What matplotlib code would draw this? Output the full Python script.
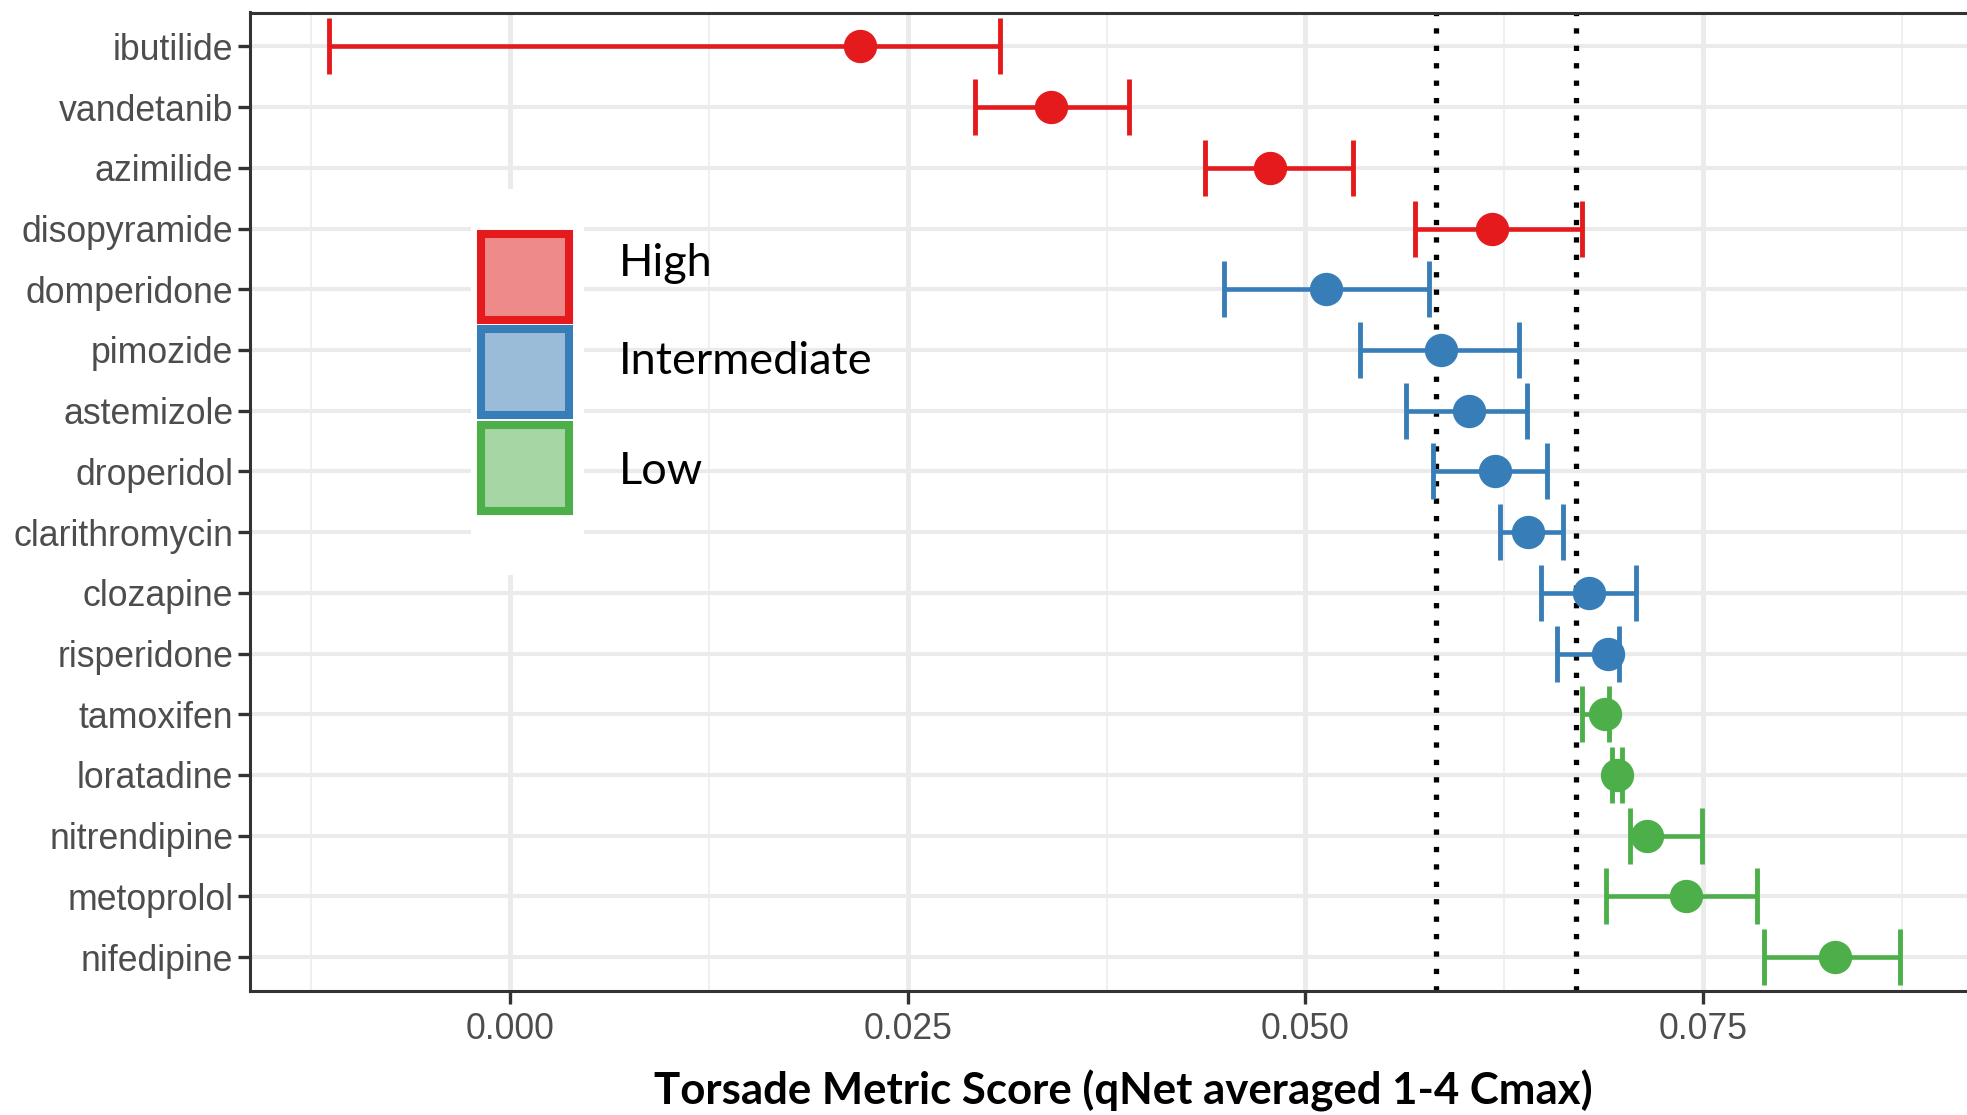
import numpy as np
import matplotlib
matplotlib.use('Agg')
import matplotlib.pyplot as plt
from matplotlib.patches import Rectangle

drugs = ['ibutilide', 'vandetanib', 'azimilide', 'disopyramide', 'domperidone',
         'pimozide', 'astemizole', 'droperidol', 'clarithromycin', 'clozapine',
         'risperidone', 'tamoxifen', 'loratadine', 'nitrendipine', 'metoprolol',
         'nifedipine']
risk = ['High'] * 4 + ['Intermediate'] * 7 + ['Low'] * 5
score = [0.0220, 0.0340, 0.0478, 0.0617, 0.0513, 0.0585, 0.0603, 0.0619, 0.0640,
         0.0678, 0.0690, 0.0688, 0.0696, 0.0715, 0.0739, 0.0833]
lower = [-0.0114, 0.0292, 0.0437, 0.0569, 0.0449, 0.0534, 0.0563, 0.0580, 0.0622,
         0.0648, 0.0658, 0.0674, 0.0693, 0.0704, 0.0689, 0.0788]
upper = [0.0308, 0.0389, 0.0530, 0.0674, 0.0578, 0.0634, 0.0639, 0.0652, 0.0662,
         0.0708, 0.0697, 0.0691, 0.0699, 0.0749, 0.0784, 0.0874]
thresholds = [0.0582, 0.0670]

levels = ['High', 'Intermediate', 'Low']
colors = {'High': '#E41A1C', 'Intermediate': '#377EB8', 'Low': '#4DAF4A'}
fills = {'High': '#EF8A8B', 'Intermediate': '#9BBCD9', 'Low': '#A6D6A4'}

score = np.array(score)
lower = np.array(lower)
upper = np.array(upper)
risk = np.array(risk)
ypos = np.arange(len(drugs))

W, H = 1967, 1115
fig = plt.figure(figsize=(W / 100, H / 100), dpi=100, facecolor='white')
ax = fig.add_axes([250 / W, 1 - 991 / H, (1979 - 250) / W, (991 - 12.5) / H])

for lev in levels:
    m = risk == lev
    ax.errorbar(score[m], ypos[m], xerr=[score[m] - lower[m], upper[m] - score[m]],
                fmt='o', color=colors[lev], ms=23, elinewidth=3.3, capsize=20,
                capthick=3.5, zorder=3)

for t in thresholds:
    ax.axvline(t, color='black', lw=3.8, ls=(0, (1.0, 2.3)), zorder=2,
               dash_capstyle='butt')

span = upper.max() - lower.min()
ax.set_xlim(lower.min() - 0.05 * span, upper.max() + 0.05 * span)
ax.set_ylim(len(drugs) - 1 + 0.56, -0.56)

ax.set_xticks([0.0, 0.025, 0.05, 0.075])
ax.set_xticklabels(['0.000', '0.025', '0.050', '0.075'])
ax.set_xticks([-0.0125, 0.0125, 0.0375, 0.0625, 0.0875], minor=True)
ax.set_yticks(ypos)
ax.set_yticklabels(drugs)

ax.grid(True, which='major', axis='x', color='#EBEBEB', lw=3.6, zorder=0)
ax.grid(True, which='major', axis='y', color='#EBEBEB', lw=3.0, zorder=0)
ax.grid(True, which='minor', axis='x', color='#EBEBEB', lw=1.1, zorder=0)
ax.set_axisbelow(True)
ax.tick_params(axis='both', which='major', length=9, width=2.4, color='#333333',
               labelcolor='#4D4D4D', labelsize=25.7, pad=3,
               labelfontfamily='Liberation Sans')
ax.tick_params(axis='x', which='minor', length=0)
ax.tick_params(axis='x', which='major', pad=6)
for s in ax.spines.values():
    s.set_color('#333333')
    s.set_linewidth(2.2)

fig.text(1123 / W, 1 - 1091 / H, 'Torsade Metric Score (qNet averaged 1-4 Cmax)',
         ha='center', va='center', fontsize=31.5, fontweight='bold', family='Lato')

# legend keys with white background
fig.add_artist(Rectangle((471 / W, 1 - 575 / H), 113 / W, 386 / H,
                         transform=fig.transFigure, facecolor='white',
                         edgecolor='none', zorder=5))
key_tops = [230, 325, 421]
key_text_y = [263, 362, 471]
for lev, top, ty in zip(levels, key_tops, key_text_y):
    fig.add_artist(Rectangle((481 / W, 1 - (top + 90) / H), 88 / W, 86 / H,
                             transform=fig.transFigure, facecolor=fills[lev],
                             edgecolor=colors[lev], lw=5.8, zorder=6))
    fig.text(619 / W, 1 - ty / H, lev, ha='left', va='center', fontsize=32.5,
             family='Lato', zorder=7)

fig.savefig('out.png', dpi=100, facecolor='white')
